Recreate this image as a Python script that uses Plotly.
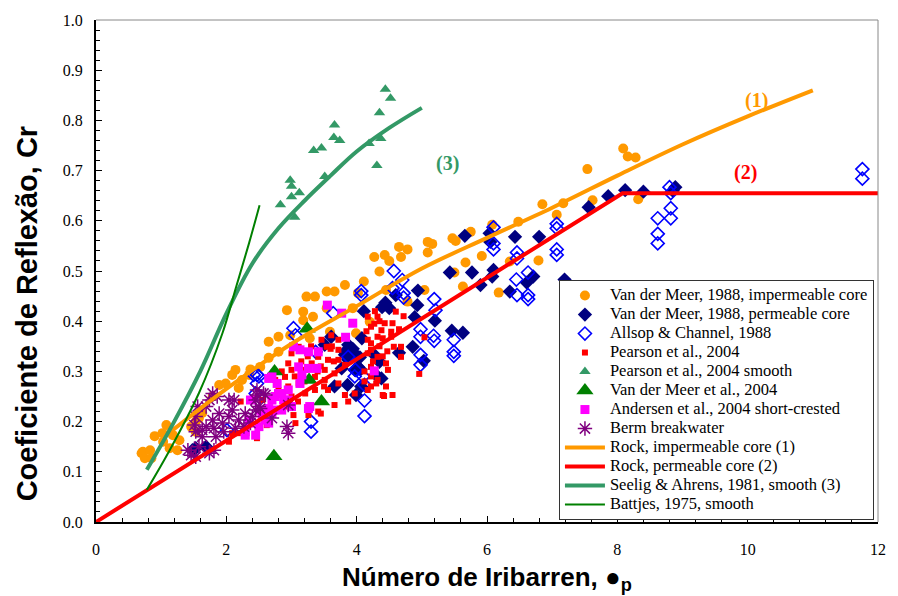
import plotly.graph_objects as go

# ---------------- data ----------------
vdm_imp_x = [0.70,0.72,0.75,0.83,0.85,0.90,1.02,1.03,1.08,1.13,1.18,1.25,1.28,1.46,1.53,1.58,1.53,1.63,1.79,1.89,1.99,2.09,2.14,2.19,2.24,2.35,2.37,2.52,2.65,2.65,2.80,2.80,2.93,2.98,3.18,3.18,3.23,3.28,3.33,3.36,3.54,3.54,3.59,3.66,3.82,3.94,3.99,4.02,4.11,4.20,4.27,4.35,4.43,4.45,4.50,4.65,4.68,4.78,4.78,5.04,5.09,5.16,5.09,5.47,5.52,5.50,5.63,5.67,5.75,5.92,6.08,6.18,6.35,6.48,6.79,6.85,7.07,7.17,7.54,7.62,8.09,8.16,8.28,8.32]
vdm_imp_y = [0.137,0.140,0.127,0.143,0.127,0.171,0.177,0.160,0.193,0.147,0.173,0.143,0.163,0.190,0.200,0.207,0.180,0.217,0.250,0.273,0.276,0.293,0.303,0.267,0.283,0.293,0.304,0.309,0.327,0.359,0.339,0.369,0.422,0.372,0.402,0.419,0.449,0.366,0.409,0.449,0.426,0.459,0.379,0.459,0.472,0.426,0.376,0.456,0.479,0.399,0.528,0.499,0.532,0.462,0.520,0.548,0.528,0.543,0.439,0.462,0.558,0.554,0.537,0.565,0.560,0.497,0.469,0.517,0.578,0.530,0.592,0.457,0.519,0.598,0.521,0.633,0.612,0.635,0.703,0.641,0.744,0.728,0.726,0.643]

vdm_perm_x = [1.48,1.53,1.69,3.61,3.51,3.66,3.77,3.82,3.82,3.86,3.87,3.87,3.94,3.97,3.99,3.99,4.02,4.05,4.06,4.07,4.08,4.11,4.27,4.32,4.35,4.38,4.39,4.44,4.50,4.60,4.65,4.86,4.89,4.93,4.94,5.03,5.20,5.43,5.46,5.63,5.66,5.77,5.90,6.04,6.05,6.08,6.10,6.35,6.43,6.61,6.71,6.80,7.19,7.56,7.86,8.12,8.40,8.89,8.85]
vdm_perm_y = [0.143,0.147,0.150,0.369,0.353,0.270,0.306,0.339,0.333,0.273,0.323,0.353,0.345,0.303,0.333,0.253,0.309,0.328,0.304,0.270,0.366,0.420,0.333,0.290,0.319,0.286,0.428,0.437,0.426,0.452,0.337,0.349,0.408,0.432,0.461,0.321,0.401,0.497,0.381,0.377,0.570,0.497,0.472,0.575,0.558,0.489,0.502,0.459,0.568,0.477,0.489,0.568,0.483,0.627,0.649,0.661,0.658,0.667,0.660]

allsop_x = [2.01,2.42,2.47,2.50,2.47,2.45,3.06,3.03,3.30,3.30,3.37,3.64,3.87,3.97,3.98,4.07,4.07,4.10,4.12,4.12,4.12,4.55,4.57,4.70,4.72,4.72,4.98,4.98,4.98,4.98,5.18,5.19,5.19,5.21,5.49,5.49,5.49,6.10,6.10,6.10,6.45,6.46,6.46,6.46,6.63,6.63,6.63,7.07,7.07,7.07,7.07,8.62,8.62,8.62,8.80,8.82,8.82,8.82,11.76,11.76]
allsop_y = [0.183,0.293,0.293,0.290,0.276,0.256,0.372,0.386,0.200,0.180,0.339,0.416,0.329,0.290,0.303,0.452,0.460,0.290,0.273,0.242,0.211,0.466,0.500,0.482,0.456,0.447,0.384,0.369,0.333,0.313,0.371,0.361,0.444,0.422,0.363,0.339,0.331,0.587,0.555,0.543,0.483,0.537,0.525,0.452,0.497,0.452,0.444,0.594,0.585,0.543,0.532,0.605,0.574,0.555,0.667,0.655,0.625,0.605,0.703,0.684]

pearson_x = [2.04,2.09,2.19,2.22,2.42,2.47,2.55,2.62,2.75,2.80,2.90,2.95,2.95,3.00,3.00,3.00,3.03,3.06,3.11,3.11,3.21,3.21,3.26,3.31,3.36,3.36,3.41,3.41,3.45,3.46,3.51,3.51,3.54,3.56,3.56,3.61,3.66,3.66,3.72,3.72,3.72,3.72,3.82,3.82,3.87,3.97,4.17,4.17,4.17,4.17,4.22,4.22,4.22,4.22,4.22,4.22,4.30,4.32,4.32,4.32,4.32,4.38,4.40,4.40,4.42,4.43,4.45,4.45,4.48,4.53,4.53,4.55,4.55,4.57,4.60,4.65,4.68,4.68,4.72,4.96,5.04,3.30,3.45,3.60,3.65,3.50,3.40,3.25,3.15,3.05,2.85,2.95,3.10,3.20,3.62,4.27,4.35,4.25,4.40,4.12,4.15,4.28,4.35,4.47,4.12]
pearson_y = [0.160,0.177,0.177,0.240,0.246,0.167,0.243,0.193,0.283,0.263,0.289,0.316,0.270,0.336,0.303,0.250,0.213,0.197,0.349,0.276,0.303,0.256,0.213,0.316,0.289,0.263,0.329,0.220,0.216,0.363,0.303,0.283,0.349,0.323,0.263,0.372,0.296,0.233,0.363,0.343,0.323,0.276,0.313,0.253,0.240,0.256,0.409,0.363,0.336,0.263,0.389,0.356,0.343,0.309,0.290,0.270,0.276,0.409,0.369,0.329,0.283,0.382,0.366,0.253,0.251,0.396,0.316,0.270,0.303,0.369,0.379,0.396,0.253,0.349,0.419,0.384,0.349,0.329,0.410,0.295,0.368,0.350,0.310,0.345,0.320,0.270,0.300,0.330,0.320,0.290,0.300,0.230,0.240,0.280,0.350,0.395,0.350,0.320,0.330,0.300,0.380,0.420,0.400,0.340,0.280]

pearson_s_x = [4.44,4.52,4.35,3.66,3.65,3.74,3.34,3.46,4.19,4.37,4.31,3.51,2.98,3.00,3.00,3.12,2.83,3.05]
pearson_s_y = [0.862,0.844,0.815,0.791,0.766,0.760,0.740,0.745,0.754,0.764,0.710,0.688,0.681,0.669,0.648,0.656,0.632,0.607]

vdm04_x = [3.24,2.73,3.46,2.74,3.27]
vdm04_y = [0.385,0.131,0.240,0.300,0.283]

andersen_x = [2.29,2.29,2.35,2.35,2.37,2.45,2.50,2.52,2.55,2.60,2.65,2.65,2.65,2.70,2.70,2.70,2.73,2.75,2.78,2.80,2.85,2.85,2.88,2.95,2.95,3.00,3.03,3.11,3.13,3.13,3.16,3.26,3.26,3.26,3.28,3.39,3.41,3.55,3.77,3.83,3.94,4.27]
andersen_y = [0.173,0.180,0.197,0.203,0.243,0.173,0.190,0.223,0.210,0.203,0.286,0.226,0.197,0.289,0.243,0.216,0.223,0.250,0.276,0.256,0.256,0.223,0.243,0.263,0.243,0.230,0.349,0.309,0.343,0.276,0.293,0.339,0.306,0.226,0.230,0.306,0.339,0.432,0.416,0.368,0.396,0.301]

berm_x = [1.41,1.46,1.53,1.58,1.74,1.81,1.51,1.53,1.53,1.56,1.63,1.63,1.69,1.69,1.74,1.79,1.79,1.81,1.84,1.86,1.89,1.94,1.96,2.04,2.04,2.09,2.12,2.14,2.19,2.27,2.29,2.37,2.40,2.45,2.45,2.47,2.47,2.50,2.52,2.57,2.60,2.70,2.93,2.95,2.95]
berm_y = [0.143,0.133,0.130,0.150,0.137,0.143,0.193,0.210,0.180,0.230,0.170,0.183,0.230,0.190,0.243,0.256,0.203,0.187,0.170,0.250,0.216,0.197,0.180,0.210,0.243,0.223,0.243,0.187,0.203,0.190,0.216,0.197,0.210,0.223,0.243,0.253,0.263,0.230,0.226,0.256,0.253,0.207,0.190,0.233,0.177]

rock_imp_x = [1.10,2.0,3.0,4.0,5.0,6.0,7.0,8.0,9.0,10.0,11.0]
rock_imp_y = [0.175,0.265,0.355,0.430,0.505,0.566,0.626,0.690,0.752,0.808,0.860]

rock_perm_x = [0.0,8.08,12.0]
rock_perm_y = [0.0,0.655,0.655]

seelig_x = [0.78,1.2,1.6,2.0,2.4,2.8,3.2,3.6,4.0,4.5,5.0]
seelig_y = [0.104,0.200,0.300,0.415,0.515,0.585,0.640,0.690,0.738,0.785,0.825]

battjes_x = [0.78,1.13,1.58,1.94,2.15,2.35,2.51]
battjes_y = [0.064,0.143,0.257,0.376,0.468,0.556,0.631]

labels = ["Van der Meer, 1988, impermeable core", "Van der Meer, 1988, permeable core",
          "Allsop & Channel, 1988", "Pearson et al., 2004", "Pearson et al., 2004 smooth",
          "Van der Meer et al., 2004", "Andersen et al., 2004 short-crested", "Berm breakwater",
          "Rock, impermeable core (1)", "Rock, permeable core (2)",
          "Seelig & Ahrens, 1981, smooth (3)", "Battjes, 1975, smooth"]


def lg(s):
    # larger legend text while keeping compact row spacing
    return '<span style="font-size:16.5px">' + s + '</span>'


ORANGE = "#FF9900"
SEAGREEN = "#339966"

fig = go.Figure()
fig.add_trace(go.Scatter(x=vdm_imp_x, y=vdm_imp_y, mode="markers", name=lg(labels[0]),
                         marker=dict(symbol="circle", size=10, color=ORANGE)))
fig.add_trace(go.Scatter(x=vdm_perm_x, y=vdm_perm_y, mode="markers", name=lg(labels[1]),
                         marker=dict(symbol="diamond", size=11, color="#000080")))
fig.add_trace(go.Scatter(x=allsop_x, y=allsop_y, mode="markers", name=lg(labels[2]),
                         marker=dict(symbol="diamond-open", size=10, color="#0000FF", line=dict(width=1.6, color="#0000FF"))))
fig.add_trace(go.Scatter(x=pearson_x, y=pearson_y, mode="markers", name=lg(labels[3]),
                         marker=dict(symbol="square", size=6, color="#FF0000")))
fig.add_trace(go.Scatter(x=pearson_s_x, y=pearson_s_y, mode="markers", name=lg(labels[4]),
                         marker=dict(symbol="triangle-up", size=10, color=SEAGREEN)))
fig.add_trace(go.Scatter(x=vdm04_x, y=vdm04_y, mode="markers", name=lg(labels[5]),
                         marker=dict(symbol="triangle-up", size=15, color="#008000")))
fig.add_trace(go.Scatter(x=andersen_x, y=andersen_y, mode="markers", name=lg(labels[6]),
                         marker=dict(symbol="square", size=9, color="#FF00FF")))
fig.add_trace(go.Scatter(x=berm_x, y=berm_y, mode="markers", name=lg(labels[7]),
                         marker=dict(symbol="asterisk-open", size=12, color="#800080", line=dict(width=1.5, color="#800080"))))
fig.add_trace(go.Scatter(x=rock_imp_x, y=rock_imp_y, mode="lines", name=lg(labels[8]),
                         line=dict(color=ORANGE, width=4, shape="spline")))
fig.add_trace(go.Scatter(x=rock_perm_x, y=rock_perm_y, mode="lines", name=lg(labels[9]),
                         line=dict(color="#FF0000", width=4)))
fig.add_trace(go.Scatter(x=seelig_x, y=seelig_y, mode="lines", name=lg(labels[10]),
                         line=dict(color=SEAGREEN, width=4, shape="spline")))
fig.add_trace(go.Scatter(x=battjes_x, y=battjes_y, mode="lines", name=lg(labels[11]),
                         line=dict(color="#008000", width=2, shape="spline")))

tickfont = dict(family="Liberation Serif", size=16, color="black")
fig.update_layout(
    width=898, height=596,
    margin=dict(l=96, r=14, t=20, b=74),
    paper_bgcolor="white", plot_bgcolor="white",
    showlegend=True,
    legend=dict(x=0.592, y=0.482, xanchor="left", yanchor="top",
                bgcolor="white", bordercolor="#333333", borderwidth=1,
                font=dict(family="Liberation Serif", size=10.5, color="black"),
                traceorder="normal", itemwidth=40),
    xaxis=dict(range=[0, 12], tickvals=[0, 2, 4, 6, 8, 10, 12], showgrid=False, zeroline=False,
               showline=True, linecolor="black", linewidth=2, ticks="inside", ticklen=6,
               tickcolor="black", tickfont=tickfont, ticklabelstandoff=12,
               minor=dict(dtick=0.4, ticks="inside", ticklen=4, tickcolor="black", showgrid=False)),
    yaxis=dict(range=[0, 1.0], dtick=0.1, tickformat=".1f", showgrid=False, zeroline=False,
               showline=True, linecolor="black", linewidth=2, ticks="inside", ticklen=6,
               tickcolor="black", tickfont=tickfont, ticklabelstandoff=8,
               minor=dict(dtick=0.02, ticks="inside", ticklen=4, tickcolor="black", showgrid=False)),
    shapes=[dict(type="line", xref="paper", yref="paper", x0=0, x1=1, y0=1, y1=1,
                 line=dict(color="#888888", width=1)),
            dict(type="line", xref="paper", yref="paper", x0=1, x1=1, y0=0, y1=1,
                 line=dict(color="#888888", width=1))],
    annotations=[
        dict(text="<b>Coeficiente de Reflexão, Cr</b>", xref="paper", yref="paper",
             x=-0.088, y=0.416, textangle=-90, showarrow=False, xanchor="center", yanchor="middle",
             font=dict(family="Liberation Sans", size=29, color="black")),
        dict(text="<b>Número de Iribarren, ●<sub>p</sub></b>", xref="paper", yref="paper",
             x=0.5, y=-0.112, showarrow=False, xanchor="center", yanchor="middle",
             font=dict(family="Liberation Sans", size=26, color="black")),
        dict(text="<b>(1)</b>", x=10.14, y=0.84, xref="x", yref="y", showarrow=False,
             font=dict(family="Liberation Serif", size=20, color=ORANGE)),
        dict(text="<b>(2)</b>", x=9.96, y=0.697, xref="x", yref="y", showarrow=False,
             font=dict(family="Liberation Serif", size=20, color="#FF0000")),
        dict(text="<b>(3)</b>", x=5.4, y=0.715, xref="x", yref="y", showarrow=False,
             font=dict(family="Liberation Serif", size=20, color=SEAGREEN)),
    ],
)

fig.write_html("out.html")
